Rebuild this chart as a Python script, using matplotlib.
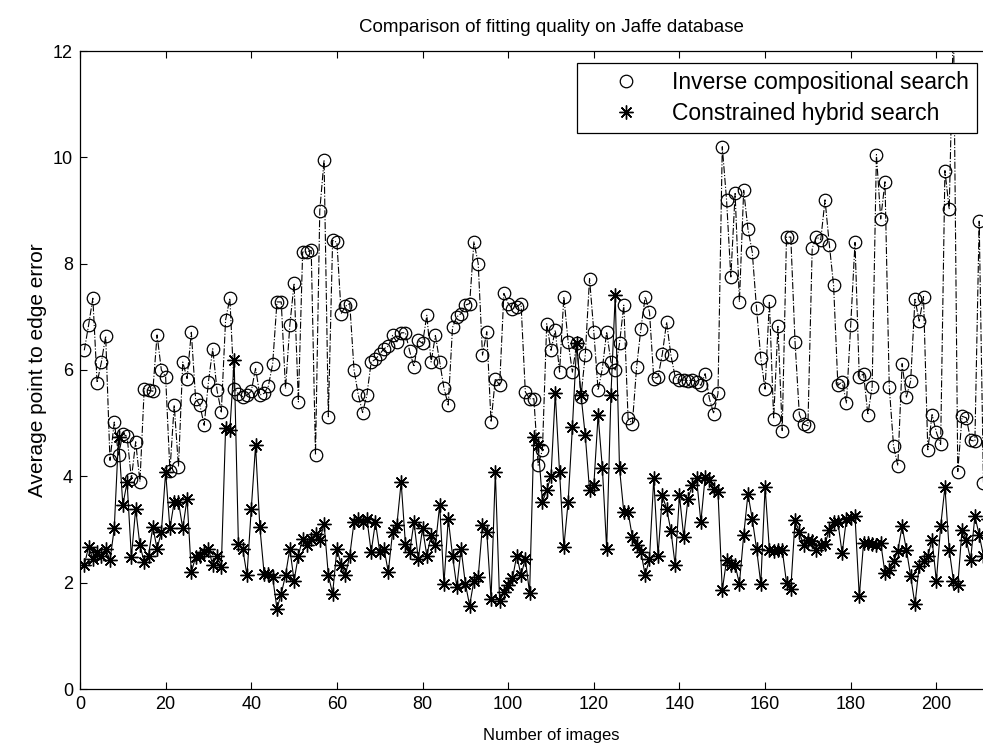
import numpy as np
import matplotlib
matplotlib.use("Agg")
import matplotlib.pyplot as plt
from matplotlib.lines import Line2D

# error per image, inverse compositional search (circles)
inv_comp = [
    6.37, 6.84, 7.35, 5.76, 6.15, 6.64, 4.30, 5.02, 4.40, 4.80,
    4.75, 3.95, 4.65, 3.90, 5.65, 5.62, 5.60, 6.66, 6.00, 5.87,
    4.10, 5.34, 4.18, 6.15, 5.84, 6.71, 5.46, 5.34, 4.96, 5.78,
    6.40, 5.62, 5.21, 6.94, 7.35, 5.65, 5.55, 5.50, 5.53, 5.60,
    6.03, 5.53, 5.56, 5.70, 6.12, 7.28, 7.28, 5.65, 6.84, 7.63,
    5.40, 8.22, 8.22, 8.25, 4.40, 9.00, 9.95, 5.12, 8.44, 8.40,
    7.06, 7.20, 7.25, 6.00, 5.53, 5.20, 5.53, 6.15, 6.20, 6.30,
    6.40, 6.45, 6.65, 6.53, 6.70, 6.70, 6.35, 6.06, 6.56, 6.50,
    7.03, 6.15, 6.65, 6.15, 5.66, 5.34, 6.80, 7.00, 7.06, 7.22,
    7.25, 8.41, 8.00, 6.28, 6.72, 5.02, 5.84, 5.71, 7.44, 7.25,
    7.15, 7.19, 7.25, 5.59, 5.46, 5.46, 4.21, 4.50, 6.87, 6.37,
    6.75, 5.96, 7.38, 6.53, 5.96, 6.50, 5.50, 6.28, 7.72, 6.72,
    5.62, 6.03, 6.72, 6.15, 6.00, 6.50, 7.22, 5.09, 4.99, 6.06,
    6.78, 7.38, 7.09, 5.84, 5.87, 6.30, 6.90, 6.28, 5.87, 5.81,
    5.81, 5.80, 5.81, 5.78, 5.71, 5.93, 5.46, 5.18, 5.56, 10.20,
    9.20, 7.75, 9.32, 7.28, 9.38, 8.65, 8.22, 7.16, 6.22, 5.64,
    7.29, 5.08, 6.82, 4.86, 8.50, 8.50, 6.52, 5.16, 4.98, 4.95,
    8.29, 8.50, 8.45, 9.20, 8.36, 7.59, 5.71, 5.78, 5.38, 6.85,
    8.40, 5.86, 5.93, 5.16, 5.68, 10.05, 8.84, 9.54, 5.68, 4.57,
    4.20, 6.12, 5.49, 5.80, 7.33, 6.92, 7.38, 4.50, 5.16, 4.83,
    4.60, 9.75, 9.02, 12.60, 4.09, 5.13, 5.10, 4.68, 4.66, 8.80,
    3.87, 4.60, 5.40,
]

# error per image, constrained hybrid search (asterisks)
hybrid = [
    2.33, 2.67, 2.45, 2.58, 2.51, 2.64, 2.42, 3.02, 4.74, 3.46,
    3.89, 2.48, 3.39, 2.70, 2.39, 2.51, 3.05, 2.64, 2.95, 4.08,
    3.02, 3.52, 3.52, 3.02, 3.58, 2.20, 2.48, 2.51, 2.58, 2.64,
    2.33, 2.51, 2.30, 4.90, 4.87, 6.18, 2.73, 2.64, 2.14, 3.39,
    4.58, 3.05, 2.17, 2.17, 2.10, 1.51, 1.79, 2.14, 2.64, 2.04,
    2.51, 2.83, 2.70, 2.83, 2.92, 2.80, 3.11, 2.14, 1.79, 2.64,
    2.33, 2.14, 2.51, 3.14, 3.20, 3.15, 3.20, 2.58, 3.14, 2.58,
    2.64, 2.20, 2.95, 3.08, 3.89, 2.73, 2.58, 3.14, 2.45, 3.02,
    2.51, 2.89, 2.70, 3.46, 1.98, 3.20, 2.51, 1.92, 2.64, 1.98,
    1.57, 2.04, 2.11, 3.08, 2.95, 1.70, 4.08, 1.65, 1.82, 1.95,
    2.08, 2.51, 2.14, 2.45, 1.80, 4.74, 4.58, 3.52, 3.74, 4.00,
    5.56, 4.08, 2.67, 3.52, 4.93, 6.50, 5.53, 4.77, 3.74, 3.83,
    5.15, 4.15, 2.64, 5.53, 7.41, 4.15, 3.33, 3.33, 2.86, 2.70,
    2.58, 2.14, 2.45, 3.96, 2.51, 3.64, 3.39, 2.98, 2.33, 3.64,
    2.86, 3.58, 3.83, 3.96, 3.14, 3.99, 3.93, 3.77, 3.70, 1.86,
    2.42, 2.33, 2.33, 1.98, 2.89, 3.67, 3.20, 2.64, 1.98, 3.80,
    2.62, 2.60, 2.62, 2.62, 2.00, 1.88, 3.17, 2.95, 2.70, 2.81,
    2.79, 2.62, 2.70, 2.73, 3.00, 3.14, 3.14, 2.55, 3.20, 3.22,
    3.25, 1.74, 2.75, 2.75, 2.72, 2.70, 2.75, 2.18, 2.23, 2.40,
    2.60, 3.06, 2.62, 2.12, 1.59, 2.32, 2.40, 2.50, 2.81, 2.03,
    3.06, 3.80, 2.62, 2.03, 1.95, 3.00, 2.80, 2.43, 3.25, 2.90,
    2.50, 3.20, 3.15,
]

labels = ["Inverse compositional search", "Constrained hybrid search"]
xticks = list(range(0, 201, 20))
yticks = list(range(0, 13, 2))

idx = np.arange(1, len(inv_comp) + 1)
star = (8, 2, 0)

plt.rcParams["font.family"] = ["Liberation Sans", "DejaVu Sans"]

fig = plt.figure(figsize=(9.83, 7.47), dpi=100)
# axes run past the right edge of the canvas (x up to 220)
ax = fig.add_axes([80 / 983, 1 - 689 / 747, (1022 - 80) / 983, (689 - 51) / 747])

ax.plot(idx, inv_comp, color="k", ls="-.", lw=0.8, marker="o",
        ms=9, mfc="none", mec="k", mew=0.9)
ax.plot(idx, hybrid, color="k", ls="-", lw=0.8, marker=star,
        ms=10, mec="k", mew=1.0)

ax.set_xlim(0, 220)
ax.set_ylim(0, 12)
ax.set_xticks(xticks)
ax.set_yticks(yticks)
ax.tick_params(direction="in", top=True, right=True, length=5, width=0.8,
               labelsize=13, pad=5)
for sp in ax.spines.values():
    sp.set_linewidth(0.9)

ax.set_title("Comparison of fitting quality on Jaffe database",
             fontsize=13.5, pad=14)
ax.set_xlabel("Number of images", fontsize=12, labelpad=11)
ax.set_ylabel("Average point to edge error", fontsize=15, labelpad=4)

handles = [
    Line2D([], [], ls="none", marker="o", ms=9, mfc="none", mec="k", mew=0.9),
    Line2D([], [], ls="none", marker=star, ms=10, mec="k", mew=1.0),
]
leg = ax.legend(handles, labels, loc="upper right",
                bbox_to_anchor=(977 / 983, 1 - 63 / 747),
                bbox_transform=fig.transFigure, borderaxespad=0,
                fancybox=False, edgecolor="k", framealpha=1, fontsize=16.5,
                handlelength=3.6, handletextpad=0.2, labelspacing=0.35,
                borderpad=0.35)
leg.get_frame().set_linewidth(0.9)
leg.set_zorder(5)

fig.savefig("out.png", dpi=100)
